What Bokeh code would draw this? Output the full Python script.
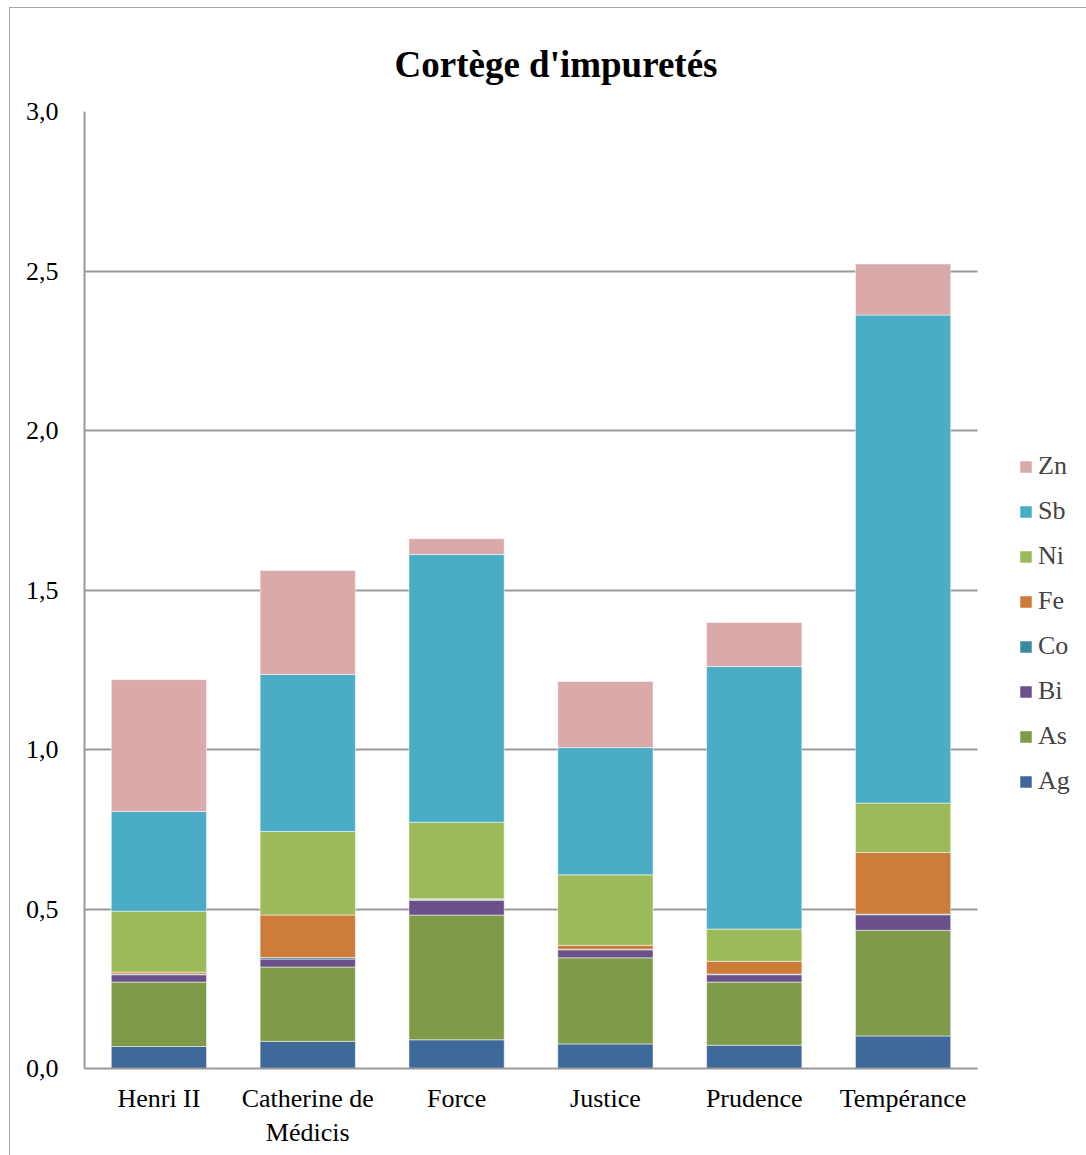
from bokeh.plotting import figure
from bokeh.models import (Legend, LegendItem, ColumnDataSource, Range1d, FixedTicker,
                          CustomJSTickFormatter, BoxAnnotation)
from bokeh.embed import file_html
from bokeh.resources import INLINE

categories = ["Henri II", "Catherine de\nMédicis", "Force", "Justice", "Prudence", "Tempérance"]
elements = ["Ag", "As", "Bi", "Co", "Fe", "Ni", "Sb", "Zn"]
Ag = [0.069, 0.085, 0.090, 0.077, 0.073, 0.102]
As = [0.202, 0.233, 0.391, 0.270, 0.198, 0.331]
Bi = [0.023, 0.025, 0.046, 0.025, 0.023, 0.049]
Co = [0.002, 0.005, 0.003, 0.002, 0.002, 0.002]
Fe = [0.006, 0.133, 0.002, 0.012, 0.040, 0.193]
Ni = [0.191, 0.262, 0.240, 0.221, 0.101, 0.155]
Sb = [0.313, 0.492, 0.839, 0.399, 0.823, 1.530]
Zn = [0.413, 0.326, 0.050, 0.207, 0.138, 0.160]
colors = ["#3F689B", "#7F9A48", "#6B5189", "#378A9F", "#CC7B38", "#9CBA5A", "#4AACC5", "#DAA9A9"]
y_ticks = [0.0, 0.5, 1.0, 1.5, 2.0, 2.5, 3.0]

n = len(categories)
xpos = [i + 0.5 for i in range(n)]
data = dict(x=xpos, Ag=Ag, As=As, Bi=Bi, Co=Co, Fe=Fe, Ni=Ni, Sb=Sb, Zn=Zn)
src = ColumnDataSource(data)

FRAME_W = 1002          # frame spans to the right edge; bars occupy the left 893 px
PLOT_W = 893
p = figure(x_range=Range1d(0, n * FRAME_W / PLOT_W), y_range=Range1d(0, 3.0),
           frame_width=FRAME_W, frame_height=957,
           output_backend="svg", toolbar_location=None,
           title="Cortège d'impuretés",
           min_border_left=74, min_border_right=0, min_border_top=103, min_border_bottom=87)
p.margin = (7, 0, 0, 9)
p.styles = {"border-left": "1px solid #a6a6a6", "border-top": "1px solid #a6a6a6",
            "box-sizing": "border-box"}

renderers = p.vbar_stack(elements, x="x", width=0.64, source=src, color=colors,
                         line_color="white", line_alpha=0.5, line_width=1)

# blank the legend area so grid lines stop at the plot area's right edge
p.add_layout(BoxAnnotation(left=n, fill_color="white", fill_alpha=1.0,
                           line_color=None, level="underlay"))

p.title.text_font = "Liberation Serif"
p.title.text_font_size = "37px"
p.title.text_font_style = "bold"
p.title.text_color = "black"
p.title.align = "left"
p.title.standoff = 53
p.title.offset = 310

p.yaxis.ticker = FixedTicker(ticks=y_ticks)
p.yaxis.formatter = CustomJSTickFormatter(code="return tick.toFixed(1).replace('.', ',');")
p.xaxis.ticker = FixedTicker(ticks=xpos)
p.xaxis.major_label_overrides = {x: c for x, c in zip(xpos, categories)}
p.xaxis.bounds = (0, n)
for ax in (p.xaxis, p.yaxis):
    ax.major_label_text_font = "Liberation Serif"
    ax.major_label_text_font_size = "26px"
    ax.major_label_text_color = "black"
    ax.axis_line_color = "#999999"
    ax.axis_line_width = 2
    ax.major_tick_line_color = None
    ax.minor_tick_line_color = None
p.xaxis.major_label_standoff = 9
p.yaxis.major_label_standoff = 20
p.xgrid.grid_line_color = None
p.ygrid.grid_line_color = "#999999"
p.ygrid.grid_line_width = 2
p.outline_line_color = None

items = [LegendItem(label=el, renderers=[r]) for el, r in zip(elements, renderers)][::-1]
legend = Legend(items=items, location=(934, 272), border_line_color=None, margin=0,
                label_text_font="Liberation Serif", label_text_font_size="26px",
                glyph_width=15, glyph_height=15, spacing=15, padding=0,
                label_standoff=5, background_fill_alpha=0)
p.add_layout(legend, "center")

open("out.html", "w").write(file_html(p, INLINE))
